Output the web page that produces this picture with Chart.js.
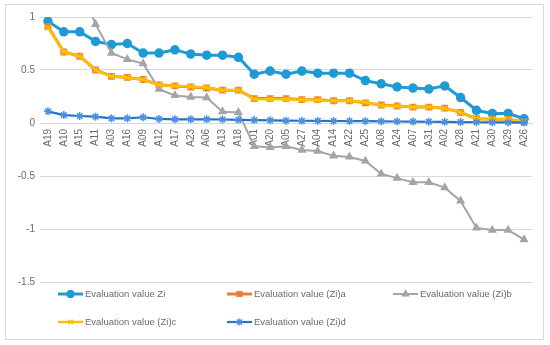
<!DOCTYPE html>
<html>
<head>
<meta charset="utf-8">
<script src="https://cdn.jsdelivr.net/npm/chart.js@4/dist/chart.umd.min.js"></script>
<style>
  body { margin: 0; background: #fff; }
  #wrap { position: absolute; left: 5px; top: 4px; width: 539px; height: 336px; border: 1px solid #d9d9d9; box-sizing: border-box; }
  #myChart { display: block; }
</style>
</head>
<body>
<div id="wrap"><canvas id="myChart" width="537" height="334"></canvas></div>
<script>
const labels = ['A19','A10','A15','A11','A03','A16','A09','A12','A17','A23','A06','A13','A18','A01','A20','A05',
  'A27','A04','A14','A22','A25','A08','A24','A07','A31','A02','A28','A21','A30','A29','A26'];

const zi  = [0.96,0.86,0.86,0.77,0.74,0.75,0.66,0.66,0.69,0.65,0.64,0.64,0.62,0.46,0.49,0.46,
  0.49,0.47,0.47,0.47,0.40,0.37,0.34,0.33,0.32,0.35,0.24,0.12,0.09,0.09,0.04];
const zia = [0.91,0.67,0.63,0.50,0.44,0.43,0.41,0.36,0.35,0.34,0.33,0.31,0.31,0.23,0.23,0.23,
  0.22,0.22,0.21,0.21,0.19,0.17,0.16,0.15,0.15,0.14,0.10,0.04,0.035,0.035,0.01];
const zib = [1.62,1.48,1.33,0.93,0.66,0.60,0.56,0.32,0.26,0.245,0.24,0.107,0.10,-0.22,-0.23,-0.22,
  -0.255,-0.265,-0.31,-0.32,-0.358,-0.48,-0.52,-0.56,-0.56,-0.61,-0.735,-0.99,-1.01,-1.01,-1.10];
const zic = [0.90,0.67,0.63,0.50,0.44,0.43,0.41,0.36,0.35,0.345,0.335,0.31,0.31,0.225,0.225,0.225,
  0.22,0.215,0.21,0.21,0.195,0.165,0.16,0.15,0.15,0.14,0.10,0.04,0.035,0.035,0.01];
const zid = [0.11,0.075,0.066,0.06,0.044,0.044,0.054,0.038,0.035,0.035,0.035,0.033,0.03,0.028,0.025,0.022,
  0.021,0.02,0.019,0.018,0.017,0.015,0.014,0.013,0.012,0.011,0.009,0.007,0.006,0.005,0.004];

const yTicks = [1, 0.5, 0, -0.5, -1, -1.5];

const txtColor = '#6b6b6b';
const font = 'Liberation Sans';

// legend drawn like the spreadsheet one: short line with its marker, 3 columns
const legendCols = [52, 221, 387];
const legendRows = [289, 317];
const sheetLegend = {
  id: 'sheetLegend',
  afterDraw(chart) {
    const ctx = chart.ctx;
    chart.data.datasets.forEach((ds, i) => {
      const x = legendCols[i % 3];
      const y = legendRows[Math.floor(i / 3)];
      ctx.save();
      ctx.strokeStyle = ds.borderColor;
      ctx.lineWidth = ds.borderWidth;
      ctx.beginPath();
      ctx.moveTo(x, y);
      ctx.lineTo(x + 25, y);
      ctx.stroke();
      ctx.fillStyle = ds.pointBackgroundColor;
      ctx.strokeStyle = ds.pointBorderColor;
      ctx.lineWidth = 1.5;
      Chart.helpers.drawPoint(ctx, { pointStyle: ds.pointStyle, radius: ds.pointRadius - 0.5, borderWidth: 1.5, rotation: 0 }, x + 12.5, y);
      ctx.fillStyle = txtColor;
      ctx.font = '9.5px "' + font + '"';
      ctx.textBaseline = 'middle';
      ctx.fillText(ds.label, x + 27, y + 0.5);
      ctx.restore();
    });
  }
};

function serie(label, data, color, style, radius, width, order, markerColor) {
  return {
    label: label,
    data: data,
    borderColor: color,
    backgroundColor: color,
    borderWidth: width,
    pointStyle: style,
    pointRadius: radius,
    pointHoverRadius: radius,
    pointBackgroundColor: markerColor || color,
    pointBorderColor: markerColor || color,
    pointBorderWidth: 1.5,
    tension: 0,
    order: order
  };
}

const config = {
  type: 'line',
  data: {
    labels: labels,
    datasets: [
      serie('Evaluation value Zi', zi, '#1f9ad6', 'circle', 4, 3, 5),
      serie('Evaluation value (Zi)a', zia, '#ed7d31', 'rect', 3.8, 3, 4),
      serie('Evaluation value (Zi)b', zib, '#a5a5a5', 'triangle', 3.8, 2, 3),
      serie('Evaluation value (Zi)c', zic, '#ffc000', 'crossRot', 3.8, 2.5, 2),
      serie('Evaluation value (Zi)d', zid, '#2670c6', 'star', 4, 2.2, 1, '#4a90e2')
    ]
  },
  options: {
    responsive: false,
    animation: false,
    layout: { padding: { top: 12, right: 11, bottom: 57, left: 0 } },
    plugins: { legend: { display: false }, tooltip: { enabled: false } },
    scales: {
      x: {
        type: 'category',
        position: { y: 0 },
        offset: true,
        grid: { display: false, drawTicks: false },
        border: { display: true, color: '#d9d9d9', width: 1 },
        ticks: {
          autoSkip: false, minRotation: 90, maxRotation: 90, padding: 6,
          color: txtColor, font: { family: font, size: 10 }
        }
      },
      y: {
        min: -1.5, max: 1,
        afterFit(scale) { scale.width = 34; },
        afterBuildTicks(scale) { scale.ticks = yTicks.map(v => ({ value: v })); },
        grid: { color: '#d9d9d9', drawTicks: false },
        border: { display: false },
        ticks: {
          padding: 5, color: txtColor, font: { family: font, size: 10 },
          callback: v => String(v)
        }
      }
    }
  },
  plugins: [sheetLegend]
};

const myChart = new Chart(document.querySelector('#myChart'), config);
</script>
</body>
</html>
